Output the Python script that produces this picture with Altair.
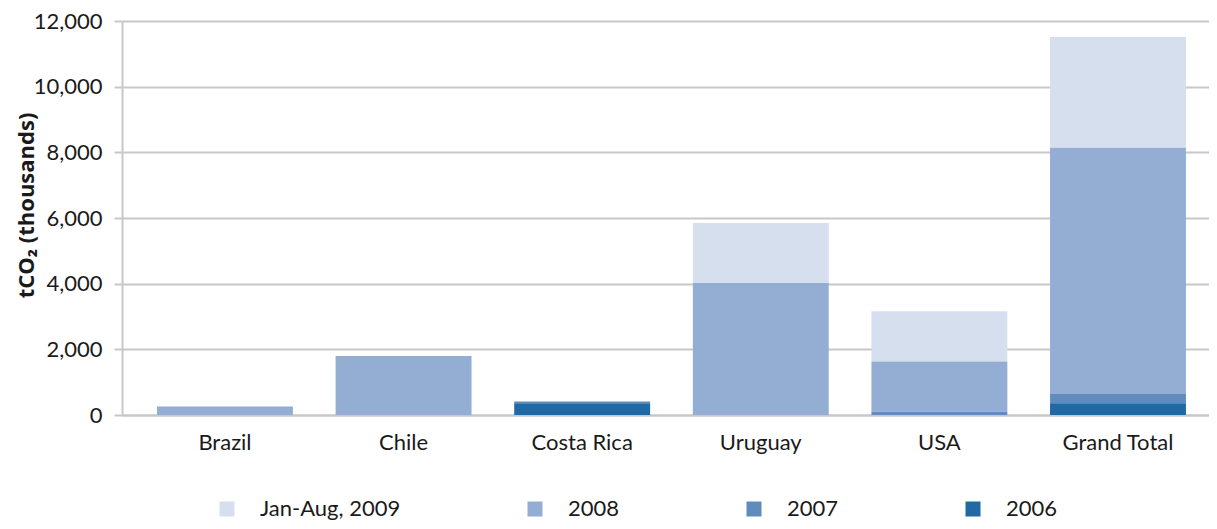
import altair as alt
import pandas as pd

FONT = "Lato"
TITLE_FONT = "Open Sans"

countries = ["Brazil", "Chile", "Costa Rica", "Uruguay", "USA", "Grand Total"]
series = ["Jan-Aug, 2009", "2008", "2007", "2006"]
v2009 = [0, 0, 0, 1830, 1530, 3370]
v2008 = [260, 1800, 0, 4020, 1530, 7500]
v2007 = [0, 0, 50, 0, 100, 280]
v2006 = [0, 0, 360, 0, 0, 360]
colors = ["#d6dfed", "#94aed3", "#5f8bbd", "#1f6aa5"]
y_ticks = [0, 2000, 4000, 6000, 8000, 10000, 12000]

rows = []
for idx, (s, vals) in enumerate(zip(series, [v2009, v2008, v2007, v2006])):
    for c, v in zip(countries, vals):
        rows.append({"country": c, "series": s, "value": v, "order": 3 - idx})
df = pd.DataFrame(rows)

grid_col = "#c8c8c8"

chart = alt.Chart(df).mark_bar().encode(
    x=alt.X(
        "country:N",
        sort=countries,
        scale=alt.Scale(paddingInner=0.239, paddingOuter=0.1625, align=0.603),
        axis=alt.Axis(
            title=None, labelAngle=0, labelFontSize=22, labelFont=FONT,
            labelColor="#1a1a1a", ticks=False, tickSize=0, domainColor=grid_col,
            domainWidth=2, labelPadding=17, grid=False,
        ),
    ),
    y=alt.Y(
        "value:Q",
        stack="zero",
        scale=alt.Scale(domain=[0, 12000], nice=False),
        axis=alt.Axis(
            values=y_ticks, format=",d", title="tCO₂ (thousands)",
            titleFont=TITLE_FONT, titleFontSize=22, titleFontWeight="bold",
            titleColor="#1a1a1a", titleX=-89, titleY=184, titleAngle=270,
            titleBaseline="alphabetic", titleAlign="center",
            labelFont=FONT, labelFontSize=22, labelColor="#1a1a1a",
            labelPadding=12, tickSize=8, tickColor=grid_col, tickWidth=2,
            gridColor=grid_col, gridWidth=2, domainColor=grid_col, domainWidth=2,
        ),
    ),
    color=alt.Color(
        "series:N",
        scale=alt.Scale(domain=series, range=colors),
        legend=alt.Legend(
            title=None, orient="none", legendX=94, legendY=477,
            direction="horizontal", columns=4, symbolType="square",
            symbolSize=225, symbolStrokeWidth=0, labelFont=FONT,
            labelFontSize=22, labelColor="#1a1a1a", labelOffset=22,
            columnPadding=123, gridAlign="none",
        ),
    ),
    order=alt.Order("order:Q", sort="ascending"),
).properties(
    width=1087,
    height=394,
    padding={"left": 114, "top": 13, "right": 0, "bottom": 106},
    autosize=alt.AutoSizeParams(type="none"),
).configure_view(stroke=None)

chart.save("out.html", embed_options={"renderer": "svg", "actions": False})
